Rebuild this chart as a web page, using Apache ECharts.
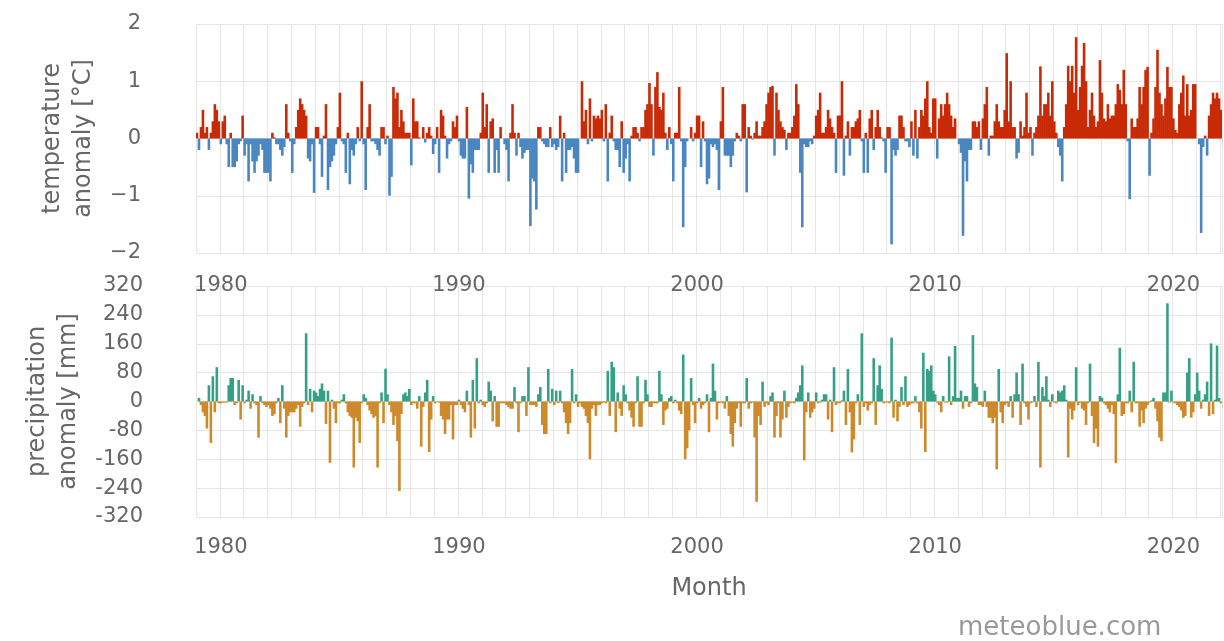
<!DOCTYPE html>
<html>
<head>
<meta charset="utf-8">
<title>temperature / precipitation anomaly</title>
<script src="https://cdn.jsdelivr.net/npm/echarts@6/dist/echarts.min.js"></script>
<style>
html,body{margin:0;padding:0;background:#fff;}
#main{width:1224px;height:641px;}
</style>
</head>
<body>
<div id="main"></div>
<script>
// monthly values, Jan 1979 .. Jan 2022, one line per year
var startYear = 1979;
var tempAnomaly = [
	0.1, -0.2, 0.2, 0.5, 0.1, 0.2, -0.2, 0.1, 0.3, 0.6, 0.5, 0.3,
	-0.1, 0.3, 0.4, -0.1, -0.5, 0.1, -0.5, -0.5, -0.4, -0.1, -0.05, 0.4,
	-0.3, -0.1, -0.75, -0.1, -0.4, -0.6, -0.4, -0.3, -0.1, -0.2, -0.6, -0.6,
	-0.6, -0.75, 0.1, 0.02, -0.1, -0.1, -0.2, -0.3, -0.15, 0.6, 0.1, -0.05,
	-0.6, -0.1, 0.2, 0.5, 0.7, 0.6, 0.5, 0.4, -0.35, -0.4, -0.1, -0.95,
	0.2, 0.2, -0.1, -0.67, 0.05, 0.6, -0.9, -0.5, -0.4, -0.3, -0.1, 0.2,
	0.8, -0.05, -0.1, -0.6, 0.1, -0.8, -0.2, -0.3, -0.1, 0.2, -0.05, 1.0,
	-0.1, -0.9, 0.2, 0.6, -0.05, -0.05, -0.1, -0.2, -0.3, 0.2, 0.2, -0.1,
	0.05, -1.0, -0.67, 0.9, 0.7, 0.8, 0.2, 0.5, 0.3, 0.1, 0.1, 0.1,
	-0.47, 0.7, 0.3, 0.3, 0.02, 0.0, 0.2, -0.07, 0.1, 0.2, 0.05, -0.27,
	-0.1, 0.2, -0.6, 0.5, 0.4, 0.05, -0.35, -0.1, -0.05, 0.3, 0.2, 0.4,
	-0.05, -0.3, -0.35, -0.35, 0.55, -1.05, -0.45, -0.6, -0.2, -0.2, -0.2, 0.1,
	0.8, 0.2, 0.6, -0.6, 0.3, 0.35, -0.6, -0.2, -0.6, 0.2, 0.0, -0.1,
	-0.2, -0.75, 0.1, 0.6, 0.1, -0.3, 0.1, -0.15, -0.35, -0.25, -0.2, -0.2,
	-1.53, -0.7, -0.75, -1.24, 0.2, 0.2, -0.05, -0.1, -0.15, -0.15, 0.2, -0.15,
	-0.1, -0.2, -0.15, 0.4, -0.75, 0.1, -0.6, -0.2, -0.2, -0.15, -0.35, -0.6,
	-0.6, 0.0, 1.0, 0.3, 0.5, -0.1, 0.7, -0.05, 0.4, 0.35, 0.4, 0.35,
	0.5, -0.05, 0.6, -0.75, 0.1, 0.4, -0.05, -0.2, -0.2, -0.5, 0.3, -0.6,
	-0.35, -0.1, -0.75, 0.05, 0.2, 0.2, 0.1, -0.05, 0.2, 0.2, 0.5, 0.6,
	0.97, 0.6, -0.3, 0.9, 1.16, 0.55, 0.5, 0.8, 0.1, -0.2, 0.2, -0.1,
	-0.75, 0.1, 0.1, 0.9, -0.05, -1.55, -0.5, -0.05, 0.0, 0.2, -0.05, 0.1,
	0.4, 0.4, -0.5, 0.3, -0.05, -0.8, -0.7, -0.1, -0.15, -0.1, -0.2, -0.9,
	0.3, 0.9, -0.3, -0.3, -0.3, -0.5, -0.3, -0.05, 0.1, 0.05, -0.05, 0.6,
	0.6, -0.94, 0.2, 0.05, -0.02, 0.1, 0.3, 0.05, 0.05, 0.2, 0.3, 0.6,
	0.8, 0.9, 0.92, -0.3, 0.8, 0.5, 0.3, 0.2, 0.15, -0.2, 0.1, 0.1,
	0.2, 0.4, 0.95, 0.6, -0.6, -1.55, -0.1, -0.15, -0.15, -0.05, -0.1, 0.05,
	0.4, 0.5, 0.8, 0.1, 0.1, 0.2, 0.5, 0.35, 0.2, 0.1, -0.6, 0.4,
	0.4, 1.0, -0.65, 0.05, 0.3, -0.3, 0.2, 0.2, 0.3, 0.35, 0.5, -0.05,
	-0.6, 0.1, -0.6, 0.35, 0.5, -0.2, 0.2, 0.5, 0.2, 0.02, -0.05, -0.6,
	0.2, 0.2, -1.85, -0.2, -0.3, -0.2, 0.4, 0.4, 0.2, -0.05, -0.05, -0.15,
	0.3, -0.3, 0.5, -0.35, 0.2, 0.5, 0.4, 0.7, 1.0, 0.2, 0.1, 0.7,
	0.7, -0.35, 0.35, 0.6, 0.4, 0.6, 0.8, 0.6, 0.4, 0.2, 0.35, 0.0,
	-0.1, -0.25, -1.7, -0.4, -0.75, -0.2, -0.2, 0.3, 0.3, 0.2, 0.3, -0.2,
	0.35, 0.6, 0.9, -0.3, 0.05, 0.05, 0.3, 0.6, 0.3, 0.2, 0.2, 0.5,
	1.49, 0.3, 1.0, 0.2, 0.2, -0.35, -0.25, 0.3, 0.05, 0.2, 0.8, 0.1,
	0.2, -0.3, 0.1, 0.2, 0.4, 1.26, 0.4, 0.6, 0.6, 0.8, 0.4, 1.0,
	0.3, 0.1, -0.15, -0.3, -0.75, 0.2, 0.6, 1.27, 1.0, 1.27, 0.8, 1.77,
	0.5, 0.9, 1.27, 1.67, 1.0, 0.2, 0.5, 0.8, 0.4, 0.2, 0.3, 1.37,
	0.8, 0.35, 0.3, 0.6, 0.35, 0.4, 0.4, 0.6, 0.95, 0.85, 0.6, 1.2,
	0.6, -0.05, -1.06, 0.35, 0.2, 0.2, 0.35, 0.9, 0.6, 0.9, 1.2, 1.25,
	-0.65, 0.1, 0.35, 0.9, 1.55, 0.8, 0.6, 0.4, 0.7, 1.25, 0.9, 0.9,
	0.35, 0.15, 0.1, 0.6, 0.8, 1.1, 0.4, 0.95, 0.4, 0.5, 0.95, 0.95,
	0.0, -0.1, -1.65, -0.15, 0.05, -0.3, 0.4, 0.6, 0.8, 0.7, 0.8, 0.7,
	0.5
];
var precipAnomaly = [
	0, 10, -10, -30, -40, -75, 45, -115, 70, -30, 95, -5,
	-5, -3, -3, -3, 45, 65, 65, -10, -5, 60, -50, 45,
	-5, 5, 30, -20, 20, -5, -10, -100, 15, -5, -10, -15,
	-10, -20, -40, -35, -5, 10, -60, 45, -20, -100, -40, -30,
	-30, -30, -20, -10, -70, -15, -5, 189, -10, 35, -30, 30,
	25, 15, 35, 50, 30, -62, 30, -170, 5, -20, -60, -5,
	-5, 5, 20, -5, -30, -40, -45, -183, -45, -55, -115, -5,
	20, 10, -10, -25, -35, -45, -40, -183, -5, 25, -60, 91,
	20, -10, -30, -65, -40, -110, -248, -35, 20, 25, 15, 35,
	-10, -5, -5, -20, 15, -125, -15, 25, 60, -140, -50, 15,
	-5, -2, -3, -40, -50, -90, -50, -50, -10, -105, -10, -10,
	5, -10, -20, -30, 30, -10, -100, 60, -75, 120, -5, 5,
	-10, -15, -5, 55, 30, -55, 15, -70, -70, -5, -5, -5,
	-10, -15, -20, -20, 40, -5, -85, -5, 15, 15, -40, 95,
	-10, -10, -10, -15, 20, 40, -65, -90, -90, 90, -5, 35,
	-10, 30, -5, 30, -5, -30, -60, -90, -60, 90, -5, 20,
	-15, -5, -15, -20, -40, -60, -160, -20, -10, -40, -10, -10,
	-5, -3, -5, 85, -40, 110, 95, -85, 25, -20, -40, 45,
	20, -5, -25, -45, -70, -5, 70, -70, -70, -5, 60, 20,
	-15, -15, -5, -5, -5, 85, 20, -65, -25, -20, 10, 15,
	-5, 5, -5, -25, -35, 130, -160, -130, -80, 65, -10, -60,
	-5, 10, -20, -10, -5, 20, -85, 10, 105, 30, -50, -5,
	-3, -5, -20, 15, -40, -90, -125, -60, -20, -5, -70, -5,
	-5, 65, -20, -5, -3, -100, -278, -40, -65, 55, -15, -5,
	-10, 15, 25, -100, -40, -5, -100, -50, 30, -45, -15, -5,
	-3, -5, 10, 25, 45, 100, -163, -30, 25, -45, -30, -20,
	25, -5, -3, 5, 20, 20, -50, 5, -85, 95, -10, -5,
	-5, 3, 30, -65, 90, -30, -141, -105, -5, 20, -65, 189,
	-15, -5, -25, -10, -5, 120, -65, 45, 100, 35, -5, -3,
	-3, -5, 177, -45, 5, -55, -15, 40, -10, 70, -15, -10,
	-5, -5, 15, -5, -30, -75, 135, -140, 90, 85, 100, 30,
	20, -3, -10, -30, 15, -3, -3, 125, -10, 15, 154, 10,
	10, 30, -20, 15, 15, -15, -5, 184, 50, 40, -10, -10,
	-15, 30, -15, -45, -45, -60, -45, -188, 90, -30, -60, -10,
	-5, -15, 15, -45, 20, 80, 20, -65, 105, -5, -15, -50,
	-5, -3, 15, -15, 110, -183, 40, 15, 70, 5, -15, 20,
	-3, -5, 30, 25, 30, 45, 5, -155, -20, -50, -25, 95,
	-10, -3, -20, -25, -65, -5, 105, -40, -115, -75, -125, 15,
	10, -5, -10, -20, -30, -10, -35, -171, 20, 149, -40, -35,
	-5, -5, 30, -30, 110, -5, -5, -70, -25, -60, -20, -10,
	-3, 3, 10, -20, -55, -100, -110, 25, 25, 272, -3, 30,
	-3, -5, -10, -15, -25, -45, -40, 80, 120, -45, -30, 20,
	80, 30, -20, 5, 20, 55, -40, 161, -35, 5, 155, 10,
	-5
];
var tempTicks = [-2, -1, 0, 1, 2];
var precipTicks = [-320, -240, -160, -80, 0, 80, 160, 240, 320];

var months = [];
for (var i = 0; i < tempAnomaly.length; i++) {
	var y = startYear + Math.floor(i / 12);
	var m = i % 12 + 1;
	months.push(y + '-' + (m < 10 ? '0' + m : m));
}

var textColor = '#666';
var gridColor = '#e6e6e6';
var font = '"DejaVu Sans", Verdana, sans-serif';

function isJan(v){ return v.slice(5) === '01'; }
function isDecade(v){ return isJan(v) && (+v.slice(0, 4)) % 10 === 0; }

function xAxisOpt(gridIndex, withName){
	var o = {
		type: 'category',
		gridIndex: gridIndex,
		data: months,
		boundaryGap: true,
		axisLine: {show: false},
		axisTick: {
			show: true, length: 7,
			interval: function(idx, v){ return isDecade(v); },
			lineStyle: {color: '#d8d8d8'}
		},
		axisLabel: {
			interval: function(idx, v){ return isDecade(v); },
			formatter: function(v){ return v.slice(0, 4); },
			color: textColor, fontSize: 21, fontFamily: font,
			margin: gridIndex === 0 ? 22 : 20
		},
		splitLine: {
			show: true,
			interval: function(idx, v){ return isJan(v); },
			lineStyle: {color: gridColor, width: 1}
		}
	};
	if (withName) {
		o.name = 'Month';
		o.nameLocation = 'middle';
		o.nameGap = 60;
		o.nameTextStyle = {color: textColor, fontSize: 24, fontFamily: font};
	}
	return o;
}

var myChart = echarts.init(document.getElementById('main'), null, {renderer: 'canvas'});

var option = {
	backgroundColor: '#fff',
	animation: false,
	grid: [
		{left: 196, top: 24, right: 2, height: 229},
		{left: 196, top: 286, right: 2, height: 231}
	],
	xAxis: [xAxisOpt(0, false), xAxisOpt(1, true)],
	yAxis: [
		{
			type: 'value', gridIndex: 0,
			min: tempTicks[0], max: tempTicks[tempTicks.length - 1], interval: 1,
			name: 'temperature\nanomaly [°C]',
			nameLocation: 'middle', nameGap: 97,
			nameTextStyle: {color: textColor, fontSize: 24, lineHeight: 31, fontFamily: font},
			axisLine: {show: false}, axisTick: {show: false},
			axisLabel: {
				color: textColor, fontSize: 21, fontFamily: font, margin: 55,
				formatter: function(v){ return String(v).replace('-', '\u2212'); }
			},
			splitLine: {lineStyle: {color: gridColor}}
		},
		{
			type: 'value', gridIndex: 1,
			min: precipTicks[0], max: precipTicks[precipTicks.length - 1], interval: 80,
			name: 'precipitation\nanomaly [mm]',
			nameLocation: 'middle', nameGap: 97,
			nameTextStyle: {color: textColor, fontSize: 24, lineHeight: 31, fontFamily: font},
			axisLine: {show: false}, axisTick: {show: false},
			axisLabel: {color: textColor, fontSize: 21, fontFamily: font, margin: 53},
			splitLine: {lineStyle: {color: gridColor}}
		}
	],
	series: [
		{
			name: 'temperature anomaly',
			type: 'bar',
			xAxisIndex: 0, yAxisIndex: 0,
			data: tempAnomaly,
			barWidth: 2.6,
			itemStyle: {
				color: function(p){ return p.value >= 0 ? '#c92a06' : '#4a86c0'; }
			}
		},
		{
			name: 'precipitation anomaly',
			type: 'bar',
			xAxisIndex: 1, yAxisIndex: 1,
			data: precipAnomaly,
			barWidth: 2.6,
			itemStyle: {
				color: function(p){ return p.value >= 0 ? '#35a085' : '#cc8a2c'; }
			}
		}
	],
	graphic: [
		{
			type: 'text', left: 958, top: 615,
			style: {text: 'meteoblue.com', fill: '#999', fontSize: 26, fontFamily: font}
		}
	]
};
myChart.setOption(option);
</script>
</body>
</html>
